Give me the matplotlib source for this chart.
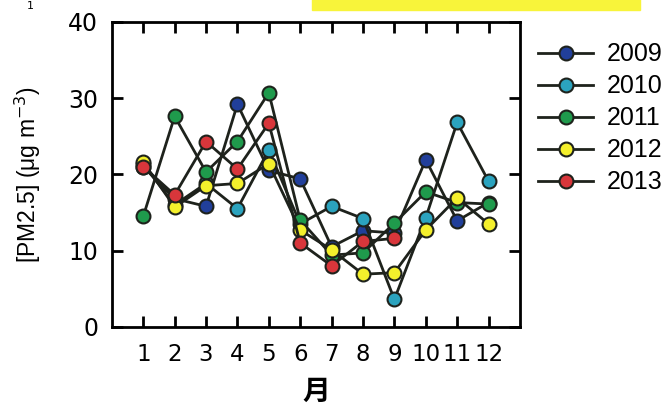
import numpy as np
import matplotlib.pyplot as plt
from matplotlib.patches import Rectangle

months = np.arange(1, 13)
month_labels = [str(m) for m in months]

pm_2009 = [21.0, 16.8, 15.8, 29.2, 20.5, 19.4, 10.5, 12.6, 12.3, 21.9, 13.9, 16.3]
pm_2010 = [21.3, 16.0, 18.8, 15.5, 23.2, 13.5, 15.8, 14.2, 3.6, 14.3, 26.8, 19.1]
pm_2011 = [14.5, 27.6, 20.3, 24.3, 30.7, 14.0, 9.4, 9.7, 13.6, 17.7, 16.3, 16.1]
pm_2012 = [21.6, 15.7, 18.5, 18.8, 21.4, 12.7, 10.1, 6.9, 7.1, 12.7, 16.9, 13.5]
pm_2013 = [21.0, 17.3, 24.3, 20.7, 26.7, 11.0, 8.0, 11.2, 11.6]

years = ['2009', '2010', '2011', '2012', '2013']
series = [pm_2009, pm_2010, pm_2011, pm_2012, pm_2013]
colors = ['#213f9a', '#2ba3be', '#1f9a4c', '#f4f02c', '#d8363b']

fig = plt.figure(figsize=(6.7, 4.19), dpi=100)
ax = fig.add_axes([0.167, 0.22, 0.609, 0.728])

for yr, vals, c in zip(years, series, colors):
    ax.plot(months[:len(vals)], vals, color='#1e221c', lw=2.0, marker='o',
            ms=10, mfc=c, mec='#1e221c', mew=1.5, label=yr)

ax.set_xlim(0, 13)
ax.set_ylim(0, 40)
ax.set_xticks(months)
ax.set_xticklabels(month_labels, fontsize=16.5, family='DejaVu Sans')
ax.set_yticks([0, 10, 20, 30, 40])
ax.set_yticklabels(['0', '10', '20', '30', '40'], fontsize=17, family='DejaVu Sans')
ax.tick_params(direction='in', length=8, width=2, top=True, right=True)
ax.tick_params(axis='x', pad=12)
ax.tick_params(axis='y', pad=10)
for s in ax.spines.values():
    s.set_linewidth(2)

ax.set_ylabel('[PM2.5] (μg m$^{-3}$)', fontsize=16.5, family='Liberation Sans', labelpad=18)
ax.set_xlabel('月', fontsize=20, fontweight='bold', family='Noto Sans CJK JP', labelpad=8)

ax.legend(loc='upper left', bbox_to_anchor=(1.02, 0.965), frameon=False,
          prop={'family': 'Liberation Sans', 'size': 18}, handlelength=2.2,
          handletextpad=0.55, labelspacing=0.32, borderaxespad=0)

fig.patches.append(Rectangle((0.465, 0.975), 0.49, 0.03, transform=fig.transFigure,
                             color='#f8f43a', zorder=0))
fig.text(0.04, 0.985, '1', fontsize=8, family='DejaVu Sans', va='center')

fig.savefig('out.png', dpi=100)
